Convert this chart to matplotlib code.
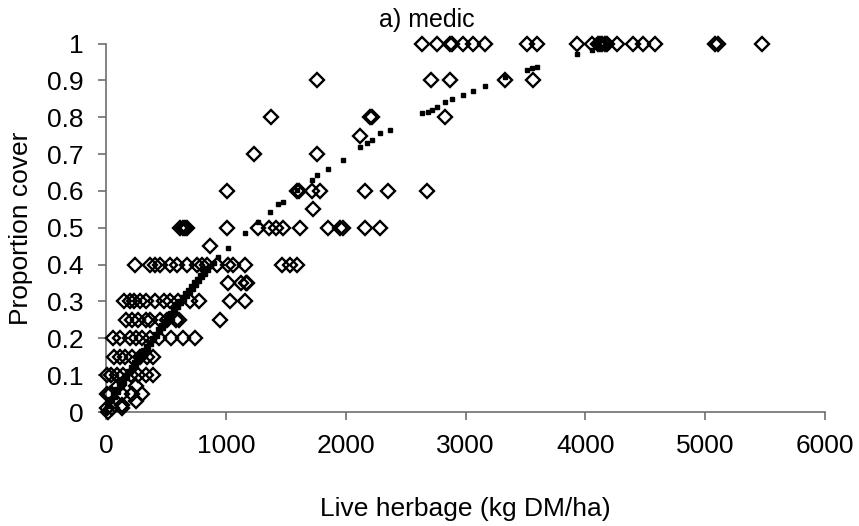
import matplotlib
matplotlib.use("Agg")
import matplotlib.pyplot as plt

plt.rcParams["font.family"] = ["Liberation Sans", "DejaVu Sans"]

obs_herbage = [
    # 1.0
    2635, 2765, 2870, 2885, 2982, 3065, 3163, 3511, 3599, 3928, 4053, 4106,
    4123, 4140, 4160, 4178, 4262, 4395, 4479, 4582, 5083, 5110, 5472,
    # 0.9
    1758, 2710, 2871, 3330, 3566,
    # 0.8
    1374, 2200, 2220, 2829,
    # 0.75
    2120,
    # 0.7
    1235, 1758,
    # 0.6
    1007, 1590, 1610, 1717, 1786, 2161, 2356, 2676,
    # 0.55
    1725,
    # 0.5
    620, 640, 660, 673, 1007, 1271, 1363, 1419, 1480, 1619, 1855, 1953, 1981,
    2161, 2287,
    # 0.45
    868,
    # 0.4
    242, 367, 409, 451, 534, 590, 673, 757, 798, 840, 924, 1021, 1062, 1160,
    1466, 1536, 1591,
    # 0.35
    1015, 1130, 1165, 1180,
    # 0.3
    150, 200, 230, 280, 330, 410, 480, 530, 600, 700, 780, 1035, 1160,
    # 0.25
    170, 220, 270, 330, 370, 450, 510, 580, 610, 950,
    # 0.2
    60, 120, 200, 250, 300, 370, 440, 540, 640, 740,
    # 0.15
    70, 120, 160, 220, 280, 340, 395,
    # 0.1
    10, 45, 90, 145, 210, 270, 330, 395,
    # 0.05 - 0
    5, 35, 130, 220, 300, 100, 250, 250, 130, 10, 50, 130, 20,
]
obs_cover = (
    [1.0] * 23 + [0.9] * 5 + [0.8] * 4 + [0.75] + [0.7] * 2 + [0.6] * 8
    + [0.55] + [0.5] * 15 + [0.45] + [0.4] * 17 + [0.35] * 4 + [0.3] * 13
    + [0.25] * 10 + [0.2] * 10 + [0.15] * 7 + [0.1] * 8
    + [0.05] * 5 + [0.07, 0.07, 0.03, 0.02, 0.01, 0.01, 0.01, 0.0]
)

# fitted values (small black squares); low end is a dense band
fit_herbage = [
    0, 25, 50, 75, 100, 125, 150, 175, 200, 225, 250, 275, 300, 325, 350,
    375, 400, 425, 450, 475, 500, 525, 550, 575, 600, 625, 650, 675, 700,
    725, 750, 775, 800, 825, 850, 875, 900,
    12, 37, 62, 87, 112, 137, 162, 187, 212, 237, 262, 287, 312, 337, 362,
    387, 412, 437, 462, 487, 512, 537, 562, 587, 612, 637, 662, 687, 712,
    737, 762, 787, 812, 837,
    937, 1021, 1160, 1271, 1369, 1438, 1480, 1591, 1717, 1758, 1855, 1980,
    2120, 2175, 2217, 2287, 2370, 2635, 2690, 2718, 2760, 2829, 2885, 2982,
    3065, 3163, 3330, 3511, 3553, 3594, 3928, 4053, 4123, 4150, 4178,
]
fit_cover = [
    0.0, 0.015, 0.03, 0.042, 0.055, 0.068, 0.08, 0.093, 0.105, 0.116, 0.128,
    0.139, 0.15, 0.161, 0.172, 0.184, 0.195, 0.206, 0.217, 0.228, 0.24,
    0.251, 0.262, 0.274, 0.285, 0.295, 0.305, 0.315, 0.325, 0.335, 0.345,
    0.355, 0.365, 0.375, 0.385, 0.395, 0.405,
    0.02, 0.035, 0.05, 0.063, 0.075, 0.088, 0.1, 0.112, 0.123, 0.135, 0.146,
    0.157, 0.168, 0.18, 0.191, 0.202, 0.213, 0.224, 0.236, 0.247, 0.258,
    0.27, 0.281, 0.292, 0.302, 0.312, 0.322, 0.332, 0.342, 0.352, 0.362,
    0.372, 0.382, 0.392,
    0.421, 0.444, 0.485, 0.516, 0.542, 0.564, 0.571, 0.602, 0.630, 0.643,
    0.659, 0.684, 0.720, 0.731, 0.738, 0.756, 0.765, 0.811, 0.815, 0.820,
    0.829, 0.842, 0.849, 0.860, 0.872, 0.885, 0.908, 0.928, 0.933, 0.937,
    0.971, 0.982, 0.991, 0.991, 0.991,
]

y_ticks = [0, 0.1, 0.2, 0.3, 0.4, 0.5, 0.6, 0.7, 0.8, 0.9, 1]
y_tick_labels = ["0", "0.1", "0.2", "0.3", "0.4", "0.5", "0.6", "0.7", "0.8", "0.9", "1"]
x_ticks = [0, 1000, 2000, 3000, 4000, 5000, 6000]

W, H = 859, 526
fig = plt.figure(figsize=(W / 100, H / 100), dpi=100)
ax = fig.add_axes([106 / W, 114 / H, 719 / W, 368.5 / H])

ax.plot(obs_herbage, obs_cover, linestyle="none", marker="D", ms=6.8,
        mfc="none", mec="black", mew=1.7, clip_on=False, zorder=3)
ax.plot(fit_herbage, fit_cover, linestyle="none", marker="s", ms=3.4,
        color="black", clip_on=False, zorder=4)

ax.set_xlim(0, 6000)
ax.set_ylim(0, 1)
ax.set_xticks(x_ticks)
ax.set_yticks(y_ticks)
ax.set_yticklabels(y_tick_labels)

axis_grey = "#6e6e6e"
for side in ["top", "right"]:
    ax.spines[side].set_visible(False)
for side in ["left", "bottom"]:
    ax.spines[side].set_color(axis_grey)
    ax.spines[side].set_linewidth(1.2)
ax.tick_params(direction="out", length=5.5, width=1.2, color=axis_grey,
               labelcolor="black", labelsize=19)
ax.tick_params(axis="y", pad=10.5)
ax.tick_params(axis="x", pad=10)

fig.text(427 / W, 1 - 19.5 / H, "a) medic", fontsize=18, ha="center", va="center")
fig.text(465 / W, 1 - 509 / H, "Live herbage (kg DM/ha)", fontsize=19,
         ha="center", va="center")
fig.text(21 / W, 1 - 228 / H, "Proportion cover", fontsize=19, rotation=90,
         ha="center", va="center")

fig.savefig("out.png", dpi=100)
